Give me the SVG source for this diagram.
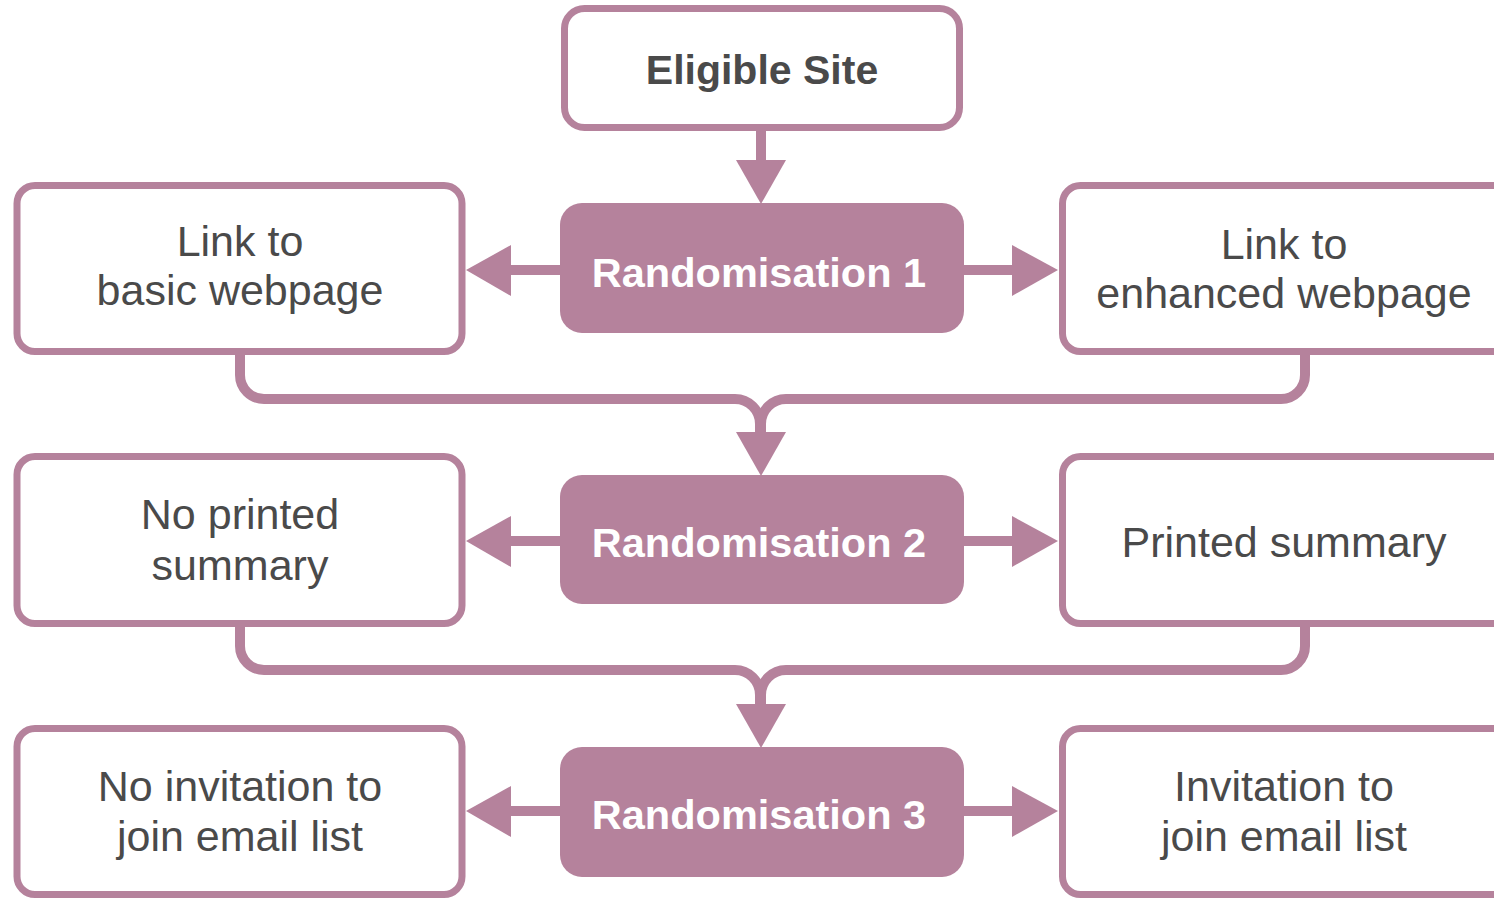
<svg xmlns="http://www.w3.org/2000/svg" width="1494" height="899" viewBox="0 0 1494 899">
  <style>
    .box { fill: #ffffff; stroke: #b5829c; stroke-width: 7; }
    .rand { fill: #b5829c; }
    .lbl { font-family: "Liberation Sans", Arial, sans-serif; font-size: 43px; fill: #4a4a4a; text-anchor: middle; }
    .rlbl { font-family: "Liberation Sans", Arial, sans-serif; font-size: 41.5px; font-weight: bold; fill: #ffffff; text-anchor: middle; }
    .title { font-family: "Liberation Sans", Arial, sans-serif; font-size: 41px; font-weight: bold; fill: #4a4a4a; text-anchor: middle; }
    .line { fill: none; stroke: #b5829c; stroke-width: 10; }
    .head { fill: #b5829c; }
  </style>
  <rect width="1494" height="899" fill="#ffffff"/>

  <!-- connectors -->
  <g id="connectors">
    <!-- Eligible Site to Randomisation 1 -->
    <line class="line" x1="761" y1="130" x2="761" y2="164"/>
    <polygon class="head" points="736,160 786,160 761,204"/>

    <!-- Randomisation 1 side arrows -->
    <line class="line" x1="562" y1="270" x2="505" y2="270"/>
    <polygon class="head" points="511,245 511,296 466,270"/>
    <line class="line" x1="962" y1="270" x2="1017" y2="270"/>
    <polygon class="head" points="1012,245 1012,296 1058,270"/>

    <!-- merge into Randomisation 2 -->
    <path class="line" d="M240,352 V375 A24,24 0 0 0 264,399 H735 A25,25 0 0 1 760,424 V436"/>
    <path class="line" d="M1305,352 V375 A24,24 0 0 1 1281,399 H786 A25,25 0 0 0 761,424 V436"/>
    <polygon class="head" points="736,432 786,432 761,476"/>

    <!-- Randomisation 2 side arrows -->
    <line class="line" x1="562" y1="541" x2="505" y2="541"/>
    <polygon class="head" points="511,516 511,567 466,541"/>
    <line class="line" x1="962" y1="541" x2="1017" y2="541"/>
    <polygon class="head" points="1012,516 1012,567 1058,541"/>

    <!-- merge into Randomisation 3 -->
    <path class="line" d="M240,624 V646 A24,24 0 0 0 264,670 H735 A25,25 0 0 1 760,695 V708"/>
    <path class="line" d="M1305,624 V646 A24,24 0 0 1 1281,670 H786 A25,25 0 0 0 761,695 V708"/>
    <polygon class="head" points="736,704 786,704 761,748"/>

    <!-- Randomisation 3 side arrows -->
    <line class="line" x1="562" y1="811" x2="505" y2="811"/>
    <polygon class="head" points="511,786 511,837 466,811"/>
    <line class="line" x1="962" y1="811" x2="1017" y2="811"/>
    <polygon class="head" points="1012,786 1012,837 1058,811"/>
  </g>

  <!-- nodes -->
  <g id="eligible-site">
    <rect class="box" x="564.5" y="8.5" width="395" height="119" rx="20"/>
    <text class="title" x="762" y="84">Eligible Site</text>
  </g>

  <g id="randomisation-1">
    <rect class="rand" x="560" y="203" width="404" height="130" rx="22"/>
    <text class="rlbl" x="759" y="287">Randomisation 1</text>
  </g>
  <g id="basic-webpage">
    <rect class="box" x="17" y="185.5" width="445" height="166" rx="18"/>
    <text class="lbl" x="240" y="256">Link to</text>
    <text class="lbl" x="240" y="305">basic webpage</text>
  </g>
  <g id="enhanced-webpage">
    <rect class="box" x="1062.5" y="185.5" width="450" height="166" rx="18"/>
    <text class="lbl" x="1284" y="259">Link to</text>
    <text class="lbl" x="1284" y="308">enhanced webpage</text>
  </g>

  <g id="randomisation-2">
    <rect class="rand" x="560" y="475" width="404" height="129" rx="22"/>
    <text class="rlbl" x="759" y="557">Randomisation 2</text>
  </g>
  <g id="no-printed-summary">
    <rect class="box" x="17" y="456.5" width="445" height="167" rx="18"/>
    <text class="lbl" x="240" y="529">No printed</text>
    <text class="lbl" x="240" y="580">summary</text>
  </g>
  <g id="printed-summary">
    <rect class="box" x="1062.5" y="456.5" width="450" height="167" rx="18"/>
    <text class="lbl" x="1284" y="557">Printed summary</text>
  </g>

  <g id="randomisation-3">
    <rect class="rand" x="560" y="747" width="404" height="130" rx="22"/>
    <text class="rlbl" x="759" y="829">Randomisation 3</text>
  </g>
  <g id="no-email-invitation">
    <rect class="box" x="17" y="728.5" width="445" height="166" rx="18"/>
    <text class="lbl" x="240" y="801">No invitation to</text>
    <text class="lbl" x="240" y="851">join email list</text>
  </g>
  <g id="email-invitation">
    <rect class="box" x="1062.5" y="728.5" width="450" height="166" rx="18"/>
    <text class="lbl" x="1284" y="801">Invitation to</text>
    <text class="lbl" x="1284" y="851">join email list</text>
  </g>
</svg>
